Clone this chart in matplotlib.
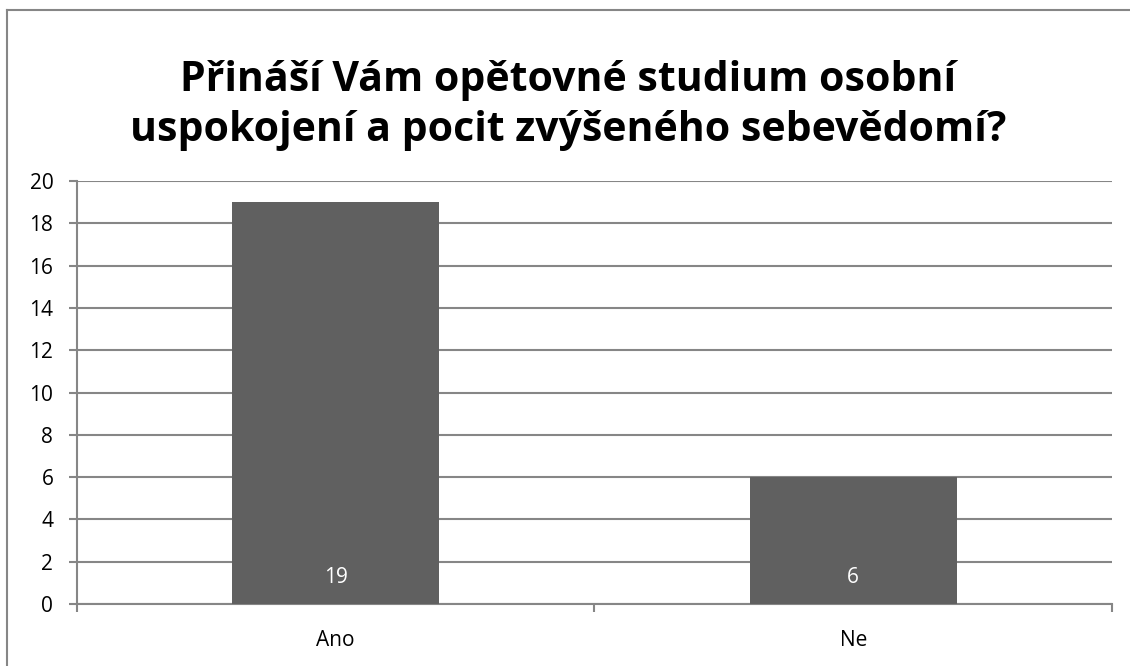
import matplotlib.pyplot as plt
from matplotlib.lines import Line2D

categories = ['Ano', 'Ne']
values = [19, 6]
title = 'Přináší Vám opětovné studium osobní\nuspokojení a pocit zvýšeného sebevědomí?'

plt.rcParams['font.family'] = ['Open Sans', 'DejaVu Sans']

grey = '#868686'
bar_color = '#606060'

fig = plt.figure(figsize=(11.3, 6.66), dpi=100)
ax = fig.add_axes([0.0681, 0.0931, 0.9160, 0.6351])

x = range(len(categories))
bars = ax.bar(x, values, width=0.4, color=bar_color, zorder=3)

ax.set_xlim(-0.5, len(categories) - 0.5)
ax.set_ylim(0, 20)
ax.set_yticks(range(0, 21, 2))
ax.set_xticks(list(x))
ax.set_xticklabels(categories)
ax.set_xticks([i - 0.5 for i in range(len(categories) + 1)], minor=True)

ax.tick_params(axis='x', which='major', length=0, pad=19, labelsize=15)
ax.tick_params(axis='x', which='minor', length=6, width=1.5, color=grey, direction='out')
ax.tick_params(axis='y', length=6, width=1.5, color=grey, direction='out', labelsize=15, pad=11)

ax.grid(axis='y', color=grey, linewidth=1.5, zorder=0)
for s in ['top', 'right']:
    ax.spines[s].set_visible(False)
for s in ['left', 'bottom']:
    ax.spines[s].set_color(grey)
    ax.spines[s].set_linewidth(1.5)

for b, v in zip(bars, values):
    ax.annotate(str(v), xy=(b.get_x() + b.get_width() / 2, 0), xytext=(0, 19),
                textcoords='offset points', ha='center', va='center',
                color='white', fontsize=15, zorder=4)

fig.text(0.503, 0.8416, title, ha='center', va='center', fontsize=29.5,
         fontweight='bold', linespacing=1.27)

# chart border (left and top edges visible)
fig.add_artist(Line2D([7 / 1130, 7 / 1130], [0, 1 - 10 / 666], color=grey, linewidth=1.5))
fig.add_artist(Line2D([7 / 1130, 1], [1 - 10 / 666, 1 - 10 / 666], color=grey, linewidth=1.5))

fig.savefig('out.png', dpi=100)
